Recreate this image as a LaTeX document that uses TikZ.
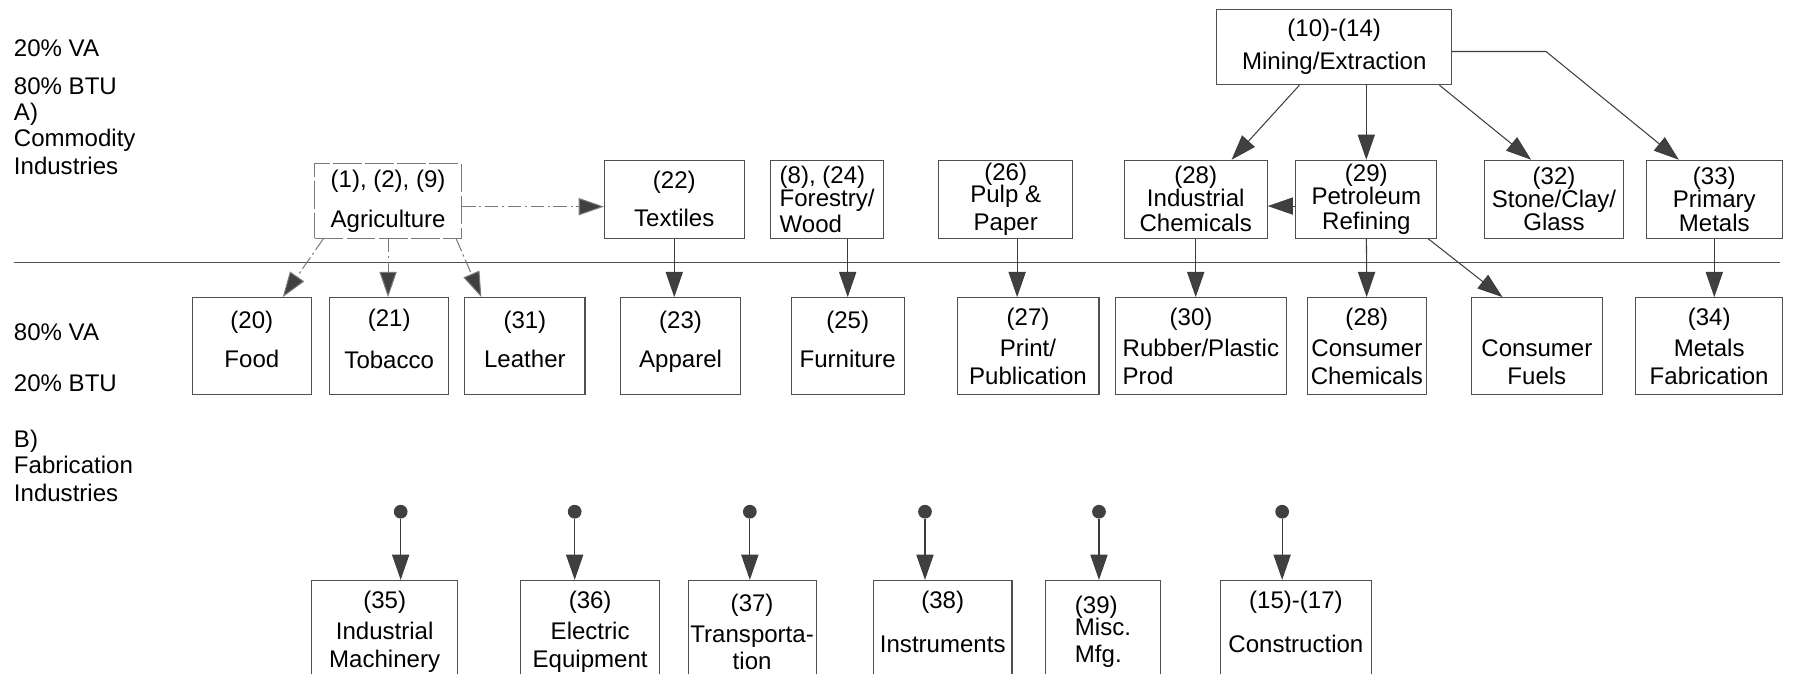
\documentclass[tikz,border=0pt]{standalone}
\usepackage{fontspec}
\setmainfont{Liberation Sans}
\usetikzlibrary{arrows.meta}

\definecolor{linegray}{HTML}{3C3C3C}
\definecolor{boxgray}{HTML}{505050}
\definecolor{tipgray}{HTML}{404040}
\definecolor{agrigray}{HTML}{7A7A7A}

\begin{document}
\begin{tikzpicture}[x=1pt, y=-1pt, font=\fontsize{21}{24}\selectfont,
    box/.style={draw=boxgray, line width=0.9pt, inner sep=0pt, align=center},
    rowA/.style={box, minimum height=68pt},
    rowB/.style={box, minimum height=85pt},
    rowBtwo/.style={rowB, text depth=13pt},
    rowC/.style={box, minimum height=90pt},
    lbl/.style={anchor=west, align=left, inner sep=0pt},
    arr/.style={draw=linegray, line width=0.9pt, -{Triangle[length=22pt,width=15pt,fill=tipgray]}},
    dasharr/.style={arr, draw=agrigray, dash pattern=on 12pt off 3pt on 2pt off 3pt},
    dot/.style={circle, fill=tipgray, inner sep=0pt, minimum size=12pt}]
    \useasboundingbox (0,0) rectangle (1568,588);
    \clip (0,0) rectangle (1568,588);

    % side labels
    \node[lbl] (va1) at (12,42) {20\% VA};
    \node[lbl] (btu1) at (12,75) {80\% BTU};
    \node[lbl] (grpA) at (12,121) {A)\\[-1pt]Commodity\\Industries};
    \node[lbl] (va2) at (12,290) {80\% VA};
    \node[lbl] (btu2) at (12,335) {20\% BTU};
    \node[lbl] (grpB) at (12,407) {B)\\[-1pt]Fabrication\\Industries};

    % separator
    \coordinate (sepL) at (12,229);
    \coordinate (sepR) at (1555,229);
    \draw[draw=boxgray, line width=0.8pt] (sepL) -- (sepR);

    % commodity industries
    \node[rowA, minimum width=205pt, minimum height=66pt] (mining) at (1165.5,41) {(10)-(14)\\[5pt]Mining/Extraction};
    \node[rowA, minimum width=128pt, minimum height=65pt, draw=agrigray, dash pattern=on 25pt off 3pt] (agri) at (339,175.5) {(1), (2), (9)\\[11pt]Agriculture};
    \node[rowA, minimum width=122pt] (tex) at (589,174) {(22)\\[9pt]Textiles};
    \node[rowA, minimum width=99pt, align=left] (forest) at (722.5,174) {(8), (24)\\[-4pt]Forestry/\\[-1pt]Wood};
    \node[rowA, minimum width=117pt] (pulp) at (878.5,174) {(26)\\[-5pt]Pulp \&\\Paper};
    \node[rowA, minimum width=125pt] (indchem) at (1044.5,174) {(28)\\[-4pt]Industrial\\[-2pt]Chemicals};
    \node[rowA, minimum width=123pt] (petro) at (1193.5,174) {(29)\\[-4pt]Petroleum\\[-2pt]Refining};
    \node[rowA, minimum width=121pt] (stone) at (1357.5,174) {(32)\\[-4pt]Stone/Clay/\\[-4pt]Glass};
    \node[rowA, minimum width=119pt] (prim) at (1497.5,174) {(33)\\[-4pt]Primary\\[-3pt]Metals};

    \node[rowBtwo, minimum width=104pt] (food) at (220,302.5) {(20)\\[10pt]Food};
    \node[rowBtwo, minimum width=104pt] (tob) at (340,302.5) {(21)\\[12pt]Tobacco};
    \node[rowBtwo, minimum width=105pt] (leath) at (458.5,302.5) {(31)\\[10pt]Leather};
    \node[rowBtwo, minimum width=105pt] (app) at (594.5,302.5) {(23)\\[10pt]Apparel};
    \node[rowBtwo, minimum width=99pt] (furn) at (740.5,302.5) {(25)\\[10pt]Furniture};
    \node[rowB, minimum width=124pt] (print) at (898,302.5) {(27)\\[3pt]Print/\\Publication};
    \node[rowB, minimum width=150pt, align=left] (rubber) at (1049,302.5) {\hspace*{41pt}(30)\\[3pt]Rubber/Plastic\\Prod};
    \node[rowB, minimum width=104pt] (conschem) at (1194,302.5) {(28)\\[3pt]Consumer\\Chemicals};
    \node[rowB, minimum width=115pt] (consfuel) at (1342.5,302.5) {\phantom{(28)}\\[3pt]Consumer\\Fuels};
    \node[rowB, minimum width=128pt] (metfab) at (1493,302.5) {(34)\\[3pt]Metals\\Fabrication};

    % fabrication industries
    \node[rowC, minimum width=128pt] (mach) at (336,552) {(35)\\[3pt]Industrial\\Machinery};
    \node[rowC, minimum width=121pt] (elec) at (515.5,552) {(36)\\[3pt]Electric\\Equipment};
    \node[rowC, minimum width=112pt] (trans) at (657,552) {(37)\\[3pt]Transporta-\\tion};
    \node[rowC, minimum width=121pt, text depth=18pt] (instr) at (823.5,552) {(38)\\[14pt]Instruments};
    \node[rowC, minimum width=101pt, align=left] (misc) at (963.5,552) {(39)\\[-5pt]Misc.\\Mfg.};
    \node[rowC, minimum width=132pt, text depth=18pt] (constr) at (1132,552) {(15)-(17)\\[14pt]Construction};

    \foreach \n/\x in {d1/350, d2/502, d3/655, d4/808, d5/960, d6/1120}
        \node[dot] (\n) at (\x,447) {};

    % connectors
    \draw[arr] (mining) -- (indchem);
    \draw[arr] (mining.south -| petro) -- (petro);
    \draw[arr] ([xshift=-11pt]mining.south east) -- ([xshift=-20pt]stone.north);
    \draw[arr] ([yshift=-4pt]mining.east) -- ++(82,0) -- ([xshift=-31pt]prim.north);
    \draw[arr] ([yshift=-6pt]petro.west) -- ([yshift=-6pt]indchem.east);

    \draw[dasharr] ([xshift=8pt]agri.south west) -- ([xshift=27pt]food.north);
    \draw[dasharr] (agri.south) -- (agri.south |- tob.north);
    \draw[dasharr] ([xshift=-5pt]agri.south east) -- ([xshift=-38pt]leath.north);
    \draw[dasharr] ([yshift=-5pt]agri.east) -- ([yshift=-5pt]agri.east -| tex.west);

    \draw[arr] (tex.south) -- (tex.south |- app.north);
    \draw[arr] (furn.north |- forest.south) -- (furn.north);
    \draw[arr] ([xshift=10pt]pulp.south) -- ([xshift=10pt]pulp.south |- print.north);
    \draw[arr] (indchem.south) -- (indchem.south |- rubber.north);
    \draw[arr] (petro) -- (conschem);
    \draw[arr] ([xshift=-8pt]petro.south east) -- ([xshift=-30pt]consfuel.north);
    \draw[arr] (prim.south) -- (prim.south |- metfab.north);

    \foreach \d/\b in {d1/mach, d2/elec, d3/trans, d4/instr, d5/misc, d6/constr}
        \draw[arr] (\d) -- (\d |- \b.north);
\end{tikzpicture}
\end{document}
